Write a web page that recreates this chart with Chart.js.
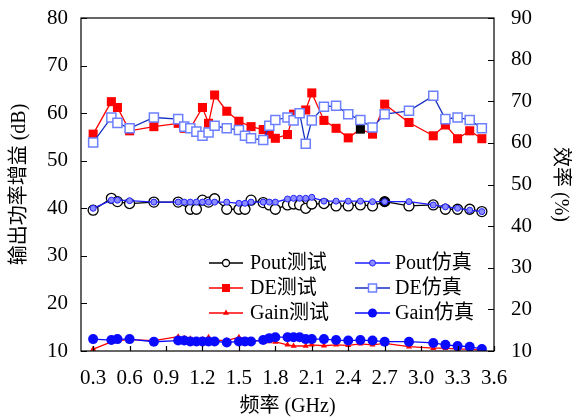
<!DOCTYPE html>
<html>
<head>
<meta charset="utf-8">
<script src="https://cdn.jsdelivr.net/npm/chart.js@4.4.0/dist/chart.umd.min.js"></script>
<style>
  body { margin: 0; background: #fff; }
  #wrap { width: 572px; height: 419px; }
</style>
</head>
<body>
<div id="wrap"><canvas id="lineChart" width="572" height="419"></canvas></div>
<script>
// frequencies (GHz)
const testFreq = [0.3, 0.45, 0.5, 0.6, 0.8, 1.0, 1.05, 1.1, 1.2, 1.25, 1.3, 1.4, 1.5, 1.6, 1.7, 1.75, 1.8,
    1.9, 1.95, 2.05, 2.1, 2.2, 2.3, 2.4, 2.5, 2.6, 2.7, 2.9, 3.1, 3.2, 3.3, 3.4, 3.5];
const poutTestFreq = [0.3, 0.45, 0.5, 0.6, 0.8, 1.0, 1.1, 1.15, 1.2, 1.25, 1.3, 1.4, 1.5, 1.55, 1.6, 1.7, 1.75,
    1.8, 1.9, 1.95, 2.0, 2.05, 2.1, 2.2, 2.3, 2.4, 2.5, 2.6, 2.7, 2.9, 3.1, 3.2, 3.3, 3.4, 3.5];
const simFreq = [0.3, 0.45, 0.5, 0.6, 0.8, 1.0, 1.05, 1.1, 1.15, 1.2, 1.25, 1.3, 1.4, 1.5, 1.55, 1.6, 1.7, 1.75,
    1.8, 1.9, 1.95, 2.0, 2.05, 2.1, 2.2, 2.3, 2.4, 2.5, 2.6, 2.7, 2.9, 3.1, 3.2, 3.3, 3.4, 3.5];

// output power (dB)
const poutTest = [39.6, 42.1, 41.4, 41.0, 41.3, 41.3, 39.8, 39.8, 41.7, 41.3, 42.0, 39.8, 39.8, 39.8, 41.7, 41.2, 40.7,
    39.8, 40.7, 40.9, 40.7, 40.0, 40.9, 41.0, 40.5, 40.5, 40.7, 40.5, 41.4, 40.5, 40.7, 39.8, 39.8, 39.8, 39.3];
const poutSim = [40.0, 41.7, 41.7, 41.6, 41.3, 41.3, 41.3, 41.3, 41.3, 41.3, 41.3, 41.3, 41.3, 41.05, 41.05, 41.3, 41.3, 41.3,
    41.3, 41.95, 42.1, 42.1, 42.1, 42.3, 41.5, 41.5, 41.5, 41.5, 41.4, 41.4, 41.4, 40.7, 40.3, 40.0, 39.6, 39.3];

// drain efficiency (%)
const deTest = [62.1, 69.9, 68.5, 62.9, 63.9, 64.7, 63.5, 63.5, 68.5, 64.7, 71.5, 67.6, 65.2, 63.9, 63.2, 62.1, 61.1,
    62.0, 66.9, 67.9, 72.0, 65.4, 63.5, 61.2, 63.3, 62.1, 69.3, 64.9, 61.7, 64.3, 61.0, 62.9, 61.0];
const deSim = [60.1, 66.1, 64.8, 63.5, 66.1, 65.7, 63.9, 63.5, 62.7, 61.7, 62.5, 64.1, 63.5, 63.1, 61.7, 61.1, 60.7, 64.1,
    65.5, 66.1, 65.4, 67.1, 59.8, 65.4, 68.7, 68.9, 66.9, 65.5, 63.7, 66.9, 67.7, 71.3, 65.7, 66.1, 65.5, 63.5];

// gain (dB)
const gainTest = [10.4, 11.9, 12.2, 12.4, 12.2, 13.0, 12.7, 12.6, 12.4, 12.9, 12.3, 12.2, 12.9, 12.2, 12.2, 12.0, 11.9,
    11.3, 11.05, 11.05, 11.3, 11.1, 11.3, 11.2, 11.5, 11.3, 11.6, 10.9, 10.6, 10.6, 10.4, 10.4, 10.2];
const gainSim = [12.5, 12.3, 12.5, 12.5, 11.95, 12.2, 12.2, 12.0, 12.0, 12.0, 12.0, 12.0, 11.8, 12.0, 12.0, 12.0, 12.3, 12.7,
    12.9, 12.9, 12.9, 12.9, 12.5, 12.5, 12.5, 12.3, 12.2, 12.3, 12.2, 11.95, 11.95, 11.7, 11.3, 11.05, 10.9, 10.4];

const freqTicks = [0.3, 0.6, 0.9, 1.2, 1.5, 1.8, 2.1, 2.4, 2.7, 3.0, 3.3, 3.6];

const FONT = '"Liberation Serif", "Noto Sans CJK SC", serif';
Chart.defaults.font.family = FONT;
Chart.defaults.font.size = 20;
Chart.defaults.color = "#000";

const pts = (xs, ys) => xs.map((x, i) => ({ x: x, y: ys[i] }));

// markers that come out black in the original plot
const deBlack = 24;
const poutBlack = 28;

function drawMarker(ctx, style, x, y, r, fill, stroke, bw) {
    ctx.beginPath();
    if (style === "rect") {
        ctx.rect(x - r, y - r, 2 * r, 2 * r);
    } else if (style === "triangle") {
        ctx.moveTo(x, y - r);
        ctx.lineTo(x + r * 0.87, y + r * 0.5);
        ctx.lineTo(x - r * 0.87, y + r * 0.5);
        ctx.closePath();
    } else {
        ctx.arc(x, y, r, 0, Math.PI * 2);
    }
    ctx.fillStyle = fill;
    ctx.fill();
    if (bw > 0) {
        ctx.strokeStyle = stroke;
        ctx.lineWidth = bw;
        ctx.stroke();
    }
}

// legend drawn inside the plot, two columns
const legendPlugin = {
    id: "insideLegend",
    afterDraw(chart) {
        const ctx = chart.ctx;
        const rows = [263, 288, 313];
        const cols = [{ x0: 209, x1: 243, tx: 250 }, { x0: 355, x1: 390, tx: 395 }];
        const order = [[0, 1], [2, 3], [4, 5]];
        ctx.save();
        ctx.font = "20px " + FONT;
        ctx.textBaseline = "middle";
        order.forEach((row, r) => {
            row.forEach((di, c) => {
                const ds = chart.data.datasets.find(d => d.legendIndex === di);
                const y = rows[r];
                const col = cols[c];
                ctx.strokeStyle = ds.borderColor;
                ctx.lineWidth = ds.borderWidth;
                ctx.beginPath();
                ctx.moveTo(col.x0, y);
                ctx.lineTo(col.x1, y);
                ctx.stroke();
                drawMarker(ctx, ds.pointStyle, (col.x0 + col.x1) / 2, y, ds.legendRadius,
                    ds.legendFill, ds.pointBorderColor, ds.pointBorderWidth);
                ctx.fillStyle = "#000";
                ctx.fillText(ds.label, col.tx, y + 1);
            });
        });
        ctx.restore();
    }
};

// box around plot area with inward tick marks
const framePlugin = {
    id: "frame",
    afterDraw(chart) {
        const { ctx, chartArea: a, scales } = chart;
        ctx.save();
        ctx.strokeStyle = "#000";
        ctx.lineWidth = 1.2;
        ctx.strokeRect(a.left, a.top, a.right - a.left, a.bottom - a.top);
        ctx.beginPath();
        scales.x.ticks.forEach(t => {
            const px = Math.round(scales.x.getPixelForValue(t.value)) + 0.5;
            ctx.moveTo(px, a.bottom);
            ctx.lineTo(px, a.bottom - 5);
        });
        scales.y.ticks.forEach(t => {
            const py = Math.round(scales.y.getPixelForValue(t.value)) + 0.5;
            ctx.moveTo(a.left, py);
            ctx.lineTo(a.left + 6, py);
        });
        scales.y1.ticks.forEach(t => {
            const py = Math.round(scales.y1.getPixelForValue(t.value)) + 0.5;
            ctx.moveTo(a.right, py);
            ctx.lineTo(a.right - 6, py);
        });
        ctx.stroke();
        ctx.restore();
    }
};

// fixed box sizes, no extra room for overhanging tick labels
function fixBox(w, h) {
    return s => {
        if (w) s.width = w;
        if (h) s.height = h;
        s.paddingTop = 0;
        s.paddingBottom = 0;
        s.paddingLeft = 0;
        s.paddingRight = 0;
    };
}

const ctx = document.getElementById("lineChart").getContext("2d");

new Chart(ctx, {
    type: "line",
    data: {
        datasets: [
            {
                label: "Pout仿真", legendIndex: 1,
                data: pts(simFreq, poutSim), yAxisID: "y", order: 1,
                borderColor: "#1e1eff", borderWidth: 1.3,
                pointStyle: "circle", pointRadius: 3, pointBackgroundColor: "#8c8cff",
                pointBorderColor: "#2323ff", pointBorderWidth: 1,
                legendRadius: 3, legendFill: "#8c8cff",
            },
            {
                label: "DE仿真", legendIndex: 3,
                data: pts(simFreq, deSim), yAxisID: "y1", order: 1,
                borderColor: "#1530c0", borderWidth: 1.3,
                pointStyle: "rect", pointRadius: 6.4, pointBackgroundColor: "#ffffff",
                pointBorderColor: "#6c80ff", pointBorderWidth: 1.5,
                legendRadius: 4, legendFill: "#ffffff",
            },
            {
                label: "Gain仿真", legendIndex: 5,
                data: pts(simFreq, gainSim), yAxisID: "y", order: 1,
                borderColor: "#0a0aff", borderWidth: 1.3,
                pointStyle: "circle", pointRadius: 5, pointBackgroundColor: "#0a0aff",
                pointBorderColor: "#0a0aff", pointBorderWidth: 0,
                legendRadius: 4.5, legendFill: "#0a0aff",
            },
            {
                label: "Pout测试", legendIndex: 0,
                data: pts(poutTestFreq, poutTest), yAxisID: "y", order: 2,
                borderColor: "#000000", borderWidth: 1.3,
                pointStyle: "circle", pointRadius: 5,
                pointBackgroundColor: c => c.dataIndex === poutBlack ? "#000000" : "#ffffff",
                pointBorderColor: "#000000", pointBorderWidth: 1.3,
                legendRadius: 3.5, legendFill: "#ffffff",
            },
            {
                label: "DE测试", legendIndex: 2,
                data: pts(testFreq, deTest), yAxisID: "y1", order: 2,
                borderColor: "#ff0000", borderWidth: 1.3,
                pointStyle: "rect", pointRadius: 6.4,
                pointBackgroundColor: c => c.dataIndex === deBlack ? "#000000" : "#ff0000",
                pointBorderColor: "#ff0000", pointBorderWidth: 0,
                legendRadius: 4, legendFill: "#ff0000",
            },
            {
                label: "Gain测试", legendIndex: 4,
                data: pts(testFreq, gainTest), yAxisID: "y", order: 2,
                borderColor: "#ff0000", borderWidth: 1.3,
                pointStyle: "triangle", pointRadius: 3.5, pointBackgroundColor: "#ff0000",
                pointBorderColor: "#ff0000", pointBorderWidth: 0,
                legendRadius: 3.5, legendFill: "#ff0000",
            },
        ],
    },
    options: {
        responsive: false,
        animation: false,
        devicePixelRatio: 1,
        layout: { autoPadding: false, padding: { top: 18, left: 0, right: 0, bottom: 0 } },
        plugins: { legend: { display: false }, tooltip: { enabled: false } },
        elements: { line: { tension: 0 } },
        scales: {
            x: {
                type: "linear", min: 0.2, max: 3.6,
                afterBuildTicks: s => { s.ticks = freqTicks.map(v => ({ value: v })); },
                afterFit: fixBox(0, 68),
                ticks: { callback: v => v.toFixed(1), padding: 15, maxRotation: 0, autoSkip: false, font: { size: 21 } },
                grid: { display: false, drawTicks: false }, border: { display: false },
                title: { display: true, text: "频率 (GHz)", padding: { top: 0, bottom: 0 } },
            },
            y: {
                type: "linear", position: "left", min: 10, max: 80,
                afterFit: fixBox(81, 0),
                ticks: { stepSize: 5, padding: 13, font: { size: 21 } },
                grid: { display: false, drawTicks: false }, border: { display: false },
                title: { display: true, text: "输出功率增益 (dB)", padding: { top: 8, bottom: 0 } },
            },
            y1: {
                type: "linear", position: "right", min: 10, max: 90,
                afterFit: fixBox(78, 0),
                ticks: { stepSize: 10, padding: 17, font: { size: 21 } },
                grid: { display: false, drawTicks: false }, border: { display: false },
                title: { display: true, text: "效率 (%)", padding: { top: 0, bottom: 0 } },
            },
        },
    },
    plugins: [framePlugin, legendPlugin],
});
</script>
</body>
</html>
